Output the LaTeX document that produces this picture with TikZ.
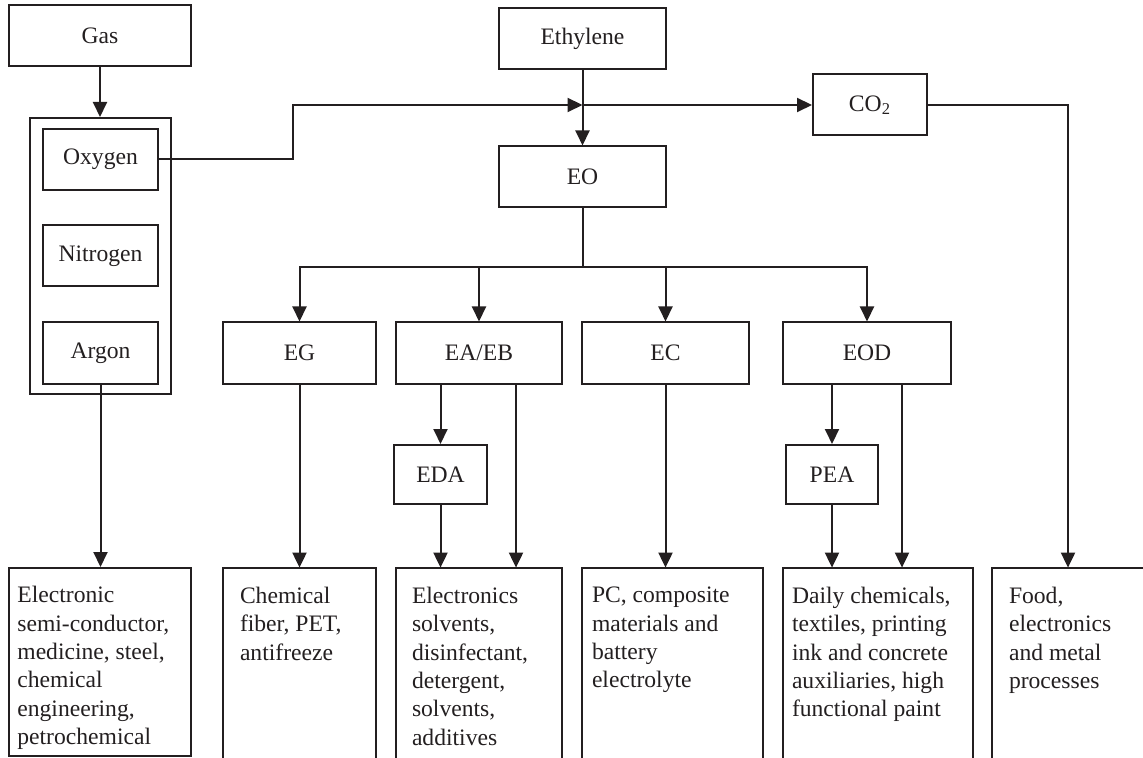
\documentclass[tikz,border=0pt]{standalone}
\usepackage{fontspec}
\setmainfont{Liberation Serif}
\usepackage{tikz}
\usetikzlibrary{arrows.meta,positioning}
\definecolor{ink}{HTML}{231F20}

\begin{document}
\begin{tikzpicture}[x=0.5pt,y=-0.5pt,
  proc/.style={draw=ink, line width=1pt, minimum width=#1, minimum height=30.5pt,
               inner sep=0pt, font=\fontsize{11.8}{14.2}\selectfont, text=ink},
  proc/.default=83.5pt,
  group/.style={draw=ink, line width=1pt, minimum width=70.5pt, minimum height=138pt, inner sep=0pt},
  usebox/.style={minimum width=#1, minimum height=95pt, inner sep=0pt},
  usetext/.style={align=left, inner sep=0pt, font=\fontsize{11.8}{14.2}\selectfont, text=ink},
  link/.style={line width=1pt, draw=ink},
  arr/.style={-{Triangle[length=7.5pt,width=7pt]}, line width=1pt, draw=ink, color=ink}
]
  \useasboundingbox (0,0) rectangle (1143,758);

  % sources
  \node[proc=91pt]   (gas) at (100,35.5)  {Gas};
  \node[group]       (grp) at (100.5,256) {};
  \node[proc=57.5pt] (oxy) at (100.5,159.5) {Oxygen};
  \node[proc=57.5pt] (nit) at (100.5,256) {Nitrogen};
  \node[proc=57.5pt] (arg) at (100.5,353) {Argon};
  \node[proc]        (eth) at (582.5,38.5) {Ethylene};
  \node[proc=57pt]   (co2) at (870,105) {CO\textsubscript{2}};
  \node[proc]        (eo)  at (582.5,177) {EO};

  % derivatives
  \node[proc=76.5pt] (eg)   at (299.5,353) {EG};
  \node[proc=83pt]   (eaeb) at (479,353)   {EA/EB};
  \node[proc]        (ec)   at (665.5,353) {EC};
  \node[proc=84pt]   (eod)  at (867,353)   {EOD};
  \node[proc=46.5pt,minimum height=29.5pt] (eda) at (440.5,474.5) {EDA};
  \node[proc=46pt,minimum height=29.5pt]   (pea) at (832,474.5)   {PEA};

  % applications
  \node[usebox=91pt,minimum height=94pt,draw=ink,line width=1pt] (u1) at (100,662) {};
  \node[usebox=76.5pt] (u2) at (299.5,663) {};
  \node[usebox=83pt]   (u3) at (479,663)   {};
  \node[usebox=90.5pt] (u4) at (672.5,663) {};
  \node[usebox=95pt]   (u5) at (878,663)   {};
  \node[usebox=76pt]   (u6) at (1068,663)  {};
  \foreach \u in {u2,u3,u4,u5}
    \draw[link] (\u.south west) |- (\u.north east) -- (\u.south east);
  \draw[link] (u6.south west) |- (u6.north east);

  \node[usetext,below right=9.5pt and 4.5pt of u1.north west] (t1) {Electronic\\semi-conductor,\\medicine, steel,\\chemical\\engineering,\\petrochemical};
  \node[usetext,below right=9.5pt and 8.5pt of u2.north west] (t2) {Chemical\\fiber, PET,\\antifreeze};
  \node[usetext,below right=9.5pt and 8pt of u3.north west]   (t3) {Electronics\\solvents,\\disinfectant,\\detergent,\\solvents,\\additives};
  \node[usetext,below right=9.5pt and 5pt of u4.north west]   (t4) {PC, composite\\materials and\\battery\\electrolyte};
  \node[usetext,below right=9.5pt and 4.5pt of u5.north west] (t5) {Daily chemicals,\\textiles, printing\\ink and concrete\\auxiliaries, high\\functional paint};
  \node[usetext,below right=9.5pt and 8.5pt of u6.north west] (t6) {Food,\\electronics\\and metal\\processes};

  \coordinate (mix) at (eth.south |- co2.west);
  \coordinate (split) at (582.5,267);

  \draw[arr] (gas.south) -- (gas.south |- grp.north);
  \draw[arr] (oxy.east) -- ++(134,0) |- (mix);
  \draw[arr] (eth) -- (eo);
  \draw[arr] (mix) -- (co2);
  \draw[link] (eo) -- (split);
  \foreach \n in {eg,eaeb,ec,eod}
    \draw[arr] (split) -| (\n);
  \draw[arr] (co2) -| (u6);

  \draw[arr] (arg) -- (arg |- u1.north);
  \draw[arr] (eg) -- (eg |- u2.north);
  \draw[arr] (eaeb.south -| eda) -- (eda);
  \draw[arr] (eda) -- (eda |- u3.north);
  \draw[arr] ([xshift=18.5pt]eaeb.south) -- ([xshift=18.5pt]eaeb.south |- u3.north);
  \draw[arr] (ec) -- (ec |- u4.north);
  \draw[arr] (eod.south -| pea) -- (pea);
  \draw[arr] (pea) -- (pea |- u5.north);
  \draw[arr] ([xshift=17.5pt]eod.south) -- ([xshift=17.5pt]eod.south |- u5.north);
\end{tikzpicture}
\end{document}
